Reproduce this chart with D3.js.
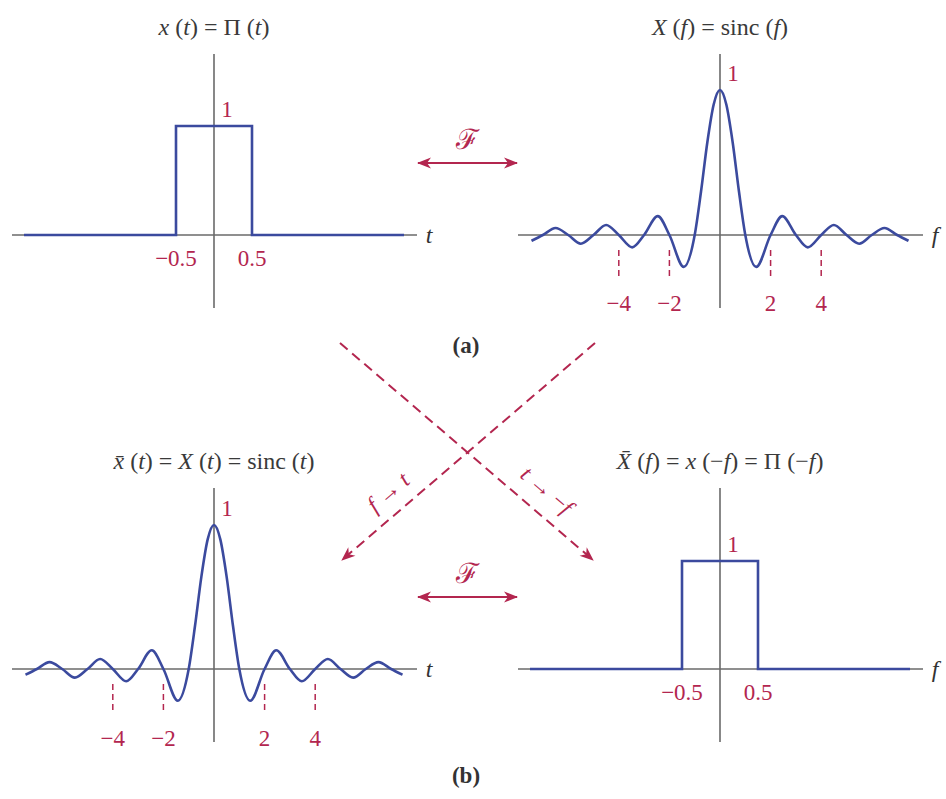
<!DOCTYPE html>
<html>
<head>
<meta charset="utf-8">
<script src="https://cdn.jsdelivr.net/npm/d3@7"></script>
<style>
  body { margin: 0; background: #fff; }
  text { font-family: "Liberation Serif", "DejaVu Serif", serif; }
</style>
</head>
<body>
<script>
// Chart area
let width = 946;
let height = 799;

// rect pulse
let rectT = [-2.5, -0.5, -0.5, 0.5, 0.5, 2.5];
let rectV = [0, 0, 1, 1, 0, 0];

// sinc curve: zeros, extrema and a few points on the main lobe
let sincT = [-7.45, -7, -6.5, -6, -5.5, -5, -4.5, -4, -3.47, -3, -2.46, -2, -1.43, -1,
             -0.75, -0.5, -0.25, 0, 0.25, 0.5, 0.75, 1, 1.43, 2, 2.46, 3, 3.47, 4,
             4.5, 5, 5.5, 6, 6.5, 7, 7.45];
let sincV = [-0.04, 0, 0.048, 0, -0.06, 0, 0.069, 0, -0.085, 0, 0.13, 0, -0.22, 0,
             0.3, 0.64, 0.9, 1, 0.9, 0.64, 0.3, 0, -0.22, 0, 0.13, 0, -0.085, 0,
             0.069, 0, -0.06, 0, 0.048, 0, -0.04];

// tick labels
let rectTicks = [-0.5, 0.5];
let rectTickLabels = ["\u22120.5", "0.5"];
let sincTicks = [-4, -2, 2, 4];
let sincTickLabels = ["\u22124", "\u22122", "2", "4"];

let blue = "#3b4a9e";
let red = "#b3264f";
let grey = "#6a6a6a";

let svg = d3.select("body").append("svg")
  .attr("width", width)
  .attr("height", height);

let defs = svg.append("defs");
["end", "start"].forEach(function(k) {
  defs.append("marker")
    .attr("id", "arr-" + k)
    .attr("viewBox", "-14 -7 16 14")
    .attr("refX", 0).attr("refY", 0)
    .attr("markerWidth", 16).attr("markerHeight", 14)
    .attr("markerUnits", "userSpaceOnUse")
    .attr("orient", k == "end" ? "auto" : "auto-start-reverse")
    .append("path")
    .attr("d", "M1,0 L-13,-5.5 L-9,0 L-13,5.5 Z")
    .attr("fill", red);
});

// one small plot; title is an array of [text, italic] pieces
function drawPanel(p) {
  let g = svg.append("g");
  let x = d3.scaleLinear()
    .domain([0, 1])
    .range([p.cx, p.cx + p.unit]);
  let y = d3.scaleLinear()
    .domain([0, 1])
    .range([p.cy, p.cy - p.amp]);

  // axes
  g.append("line")
    .attr("x1", p.cx - 202).attr("x2", p.cx + 203)
    .attr("y1", p.cy).attr("y2", p.cy)
    .attr("stroke", grey).attr("stroke-width", 1.6);
  g.append("line")
    .attr("x1", p.cx).attr("x2", p.cx)
    .attr("y1", p.cy - 181).attr("y2", p.cy + 73)
    .attr("stroke", grey).attr("stroke-width", 1.6);

  // curve
  let line = d3.line()
    .x((d, i) => x(p.xs[i]))
    .y((d, i) => y(p.ys[i]))
    .curve(p.smooth ? d3.curveMonotoneX : d3.curveLinear);
  g.append("path")
    .attr("d", line(p.xs))
    .attr("fill", "none")
    .attr("stroke", blue)
    .attr("stroke-width", 2.6)
    .attr("stroke-linejoin", "miter");

  // ticks
  if (p.dashed) {
    g.selectAll(".dash")
      .data(p.ticks)
      .enter().append("line")
      .attr("x1", d => x(d)).attr("x2", d => x(d))
      .attr("y1", p.cy + 15).attr("y2", p.cy + 42)
      .attr("stroke", red).attr("stroke-width", 1.5)
      .attr("stroke-dasharray", "6,4");
  }
  g.selectAll(".tl")
    .data(p.ticks)
    .enter().append("text")
    .attr("x", d => x(d))
    .attr("y", p.cy + p.labelDy)
    .attr("text-anchor", "middle")
    .attr("dominant-baseline", "central")
    .attr("font-size", 23)
    .attr("fill", red)
    .text((d, i) => p.tickLabels[i]);

  // "1" label
  g.append("text")
    .attr("x", p.cx + 13)
    .attr("y", y(1) - 17)
    .attr("text-anchor", "middle")
    .attr("dominant-baseline", "central")
    .attr("font-size", 23)
    .attr("fill", red)
    .text("1");

  // variable name at the end of the axis
  g.append("text")
    .attr("x", p.cx + 215)
    .attr("y", p.cy)
    .attr("text-anchor", "middle")
    .attr("dominant-baseline", "central")
    .attr("font-size", 24)
    .attr("font-style", "italic")
    .attr("fill", "#333")
    .text(p.varName);

  // title
  let t = g.append("text")
    .attr("x", p.cx)
    .attr("y", p.cy - 208)
    .attr("text-anchor", "middle")
    .attr("dominant-baseline", "central")
    .attr("font-size", 24)
    .attr("fill", "#3a3a3a");
  p.title.forEach(function(piece) {
    t.append("tspan")
      .attr("font-style", piece[1] ? "italic" : "normal")
      .text(piece[0]);
  });
}

drawPanel({
  cx: 214, cy: 235, unit: 76, amp: 109, xs: rectT, ys: rectV, smooth: false,
  ticks: rectTicks, tickLabels: rectTickLabels, dashed: false, labelDy: 23, varName: "t",
  title: [["x", true], [" (", false], ["t", true], [") = \u03a0 (", false], ["t", true], [")", false]]
});
drawPanel({
  cx: 720, cy: 235, unit: 25.3, amp: 145, xs: sincT, ys: sincV, smooth: true,
  ticks: sincTicks, tickLabels: sincTickLabels, dashed: true, labelDy: 68, varName: "f",
  title: [["X", true], [" (", false], ["f", true], [") = sinc (", false], ["f", true], [")", false]]
});
drawPanel({
  cx: 214, cy: 669, unit: 25.3, amp: 144, xs: sincT, ys: sincV, smooth: true,
  ticks: sincTicks, tickLabels: sincTickLabels, dashed: true, labelDy: 69, varName: "t",
  title: [["x\u0304", true], [" (", false], ["t", true], [") = ", false], ["X", true], [" (", false],
          ["t", true], [") = sinc (", false], ["t", true], [")", false]]
});
drawPanel({
  cx: 720, cy: 669, unit: 76, amp: 108, xs: rectT, ys: rectV, smooth: false,
  ticks: rectTicks, tickLabels: rectTickLabels, dashed: false, labelDy: 23, varName: "f",
  title: [["X\u0304", true], [" (", false], ["f", true], [") = ", false], ["x", true], [" (\u2212", false],
          ["f", true], [") = \u03a0 (\u2212", false], ["f", true], [")", false]]
});

// Fourier double arrows
[[163, 139], [597, 573]].forEach(function(a) {
  svg.append("line")
    .attr("x1", 418).attr("x2", 517)
    .attr("y1", a[0]).attr("y2", a[0])
    .attr("stroke", red).attr("stroke-width", 2)
    .attr("marker-end", "url(#arr-end)")
    .attr("marker-start", "url(#arr-start)");
  svg.append("text")
    .attr("x", 467).attr("y", a[1])
    .attr("text-anchor", "middle")
    .attr("dominant-baseline", "central")
    .attr("font-size", 28)
    .attr("font-family", "DejaVu Serif, serif")
    .attr("fill", red)
    .text("\u2131");
});

// dashed duality arrows
[[340, 343, 593, 560], [595, 343, 342, 560]].forEach(function(l) {
  svg.append("line")
    .attr("x1", l[0]).attr("y1", l[1])
    .attr("x2", l[2]).attr("y2", l[3])
    .attr("stroke", red).attr("stroke-width", 2)
    .attr("stroke-dasharray", "10,6")
    .attr("marker-end", "url(#arr-end)");
});

let ang = Math.atan2(560 - 343, 593 - 340) * 180 / Math.PI;
let lab1 = svg.append("text")
  .attr("transform", `translate(388,492) rotate(${-ang})`)
  .attr("text-anchor", "middle")
  .attr("dominant-baseline", "central")
  .attr("font-size", 23)
  .attr("fill", red);
lab1.append("tspan").attr("font-style", "italic").text("f");
lab1.append("tspan").text(" \u2192 ");
lab1.append("tspan").attr("font-style", "italic").text("t");

let lab2 = svg.append("text")
  .attr("transform", `translate(547,490) rotate(${ang})`)
  .attr("text-anchor", "middle")
  .attr("dominant-baseline", "central")
  .attr("font-size", 23)
  .attr("fill", red);
lab2.append("tspan").attr("font-style", "italic").text("t");
lab2.append("tspan").text(" \u2192 \u2212");
lab2.append("tspan").attr("font-style", "italic").text("f");

// sub captions
[["(a)", 345], ["(b)", 775]].forEach(function(c) {
  svg.append("text")
    .attr("x", 466).attr("y", c[1])
    .attr("text-anchor", "middle")
    .attr("dominant-baseline", "central")
    .attr("font-size", 23)
    .attr("font-weight", "bold")
    .attr("fill", "#333")
    .text(c[0]);
});
</script>
</body>
</html>
